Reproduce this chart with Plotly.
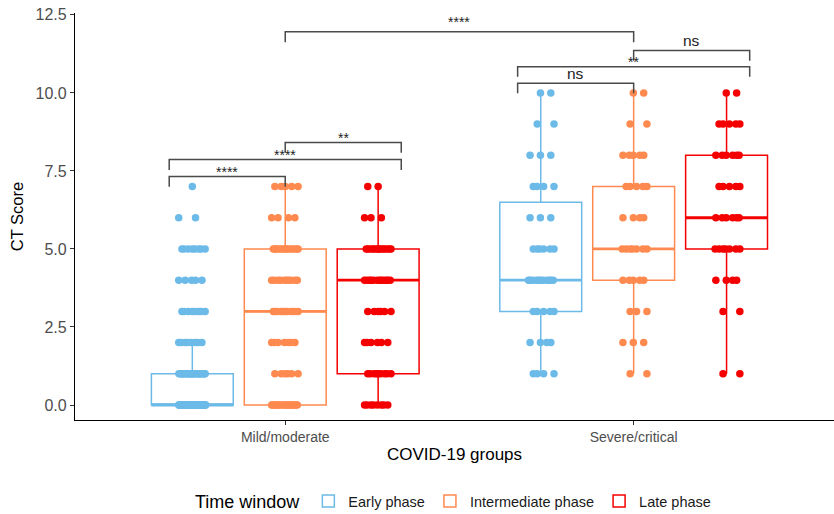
import numpy as np
import plotly.graph_objects as go

# ---------------- data ----------------
groups = ["Mild/moderate", "Severe/critical"]
group_pos = [1, 2]
phases = ["Early phase", "Intermediate phase", "Late phase"]
colors = ["#6CBAE8", "#FF8A50", "#F50000"]

mild_levels = [0, 1, 2, 3, 4, 5, 6, 7]
severe_levels = [1, 2, 3, 4, 5, 6, 7, 8, 9, 10]

# number of patients at each CT score level
mild_early_counts = [70, 30, 8, 8, 5, 8, 2, 1]
mild_inter_counts = [20, 6, 7, 10, 10, 15, 4, 5]
mild_late_counts = [8, 9, 6, 6, 12, 14, 3, 2]
severe_early_counts = [4, 4, 5, 11, 6, 3, 4, 3, 2, 2]
severe_inter_counts = [2, 3, 3, 5, 7, 4, 5, 5, 2, 2]
severe_late_counts = [2, 0, 2, 4, 7, 6, 5, 6, 5, 2]

y_ticks = [0, 2.5, 5, 7.5, 10, 12.5]

# significance brackets: x-start, x-end, bracket height, tip end, label, label y, label size
sig_x0 = [1.0, 2.0, 1.667, 1.667, 1.0, 0.667, 0.667]
sig_x1 = [2.0, 2.333, 2.333, 2.0, 1.333, 1.333, 1.0]
sig_line = [11.96, 11.36, 10.84, 10.31, 8.41, 7.87, 7.32]
sig_tip = [11.62, 11.03, 10.52, 9.99, 8.08, 7.53, 6.99]
sig_label = ["****", "ns", "**", "ns", "**", "****", "****"]
sig_label_y = [12.28, 11.67, 10.99, 10.61, 8.56, 8.01, 7.47]
sig_label_size = [14, 15.5, 14, 15.5, 14, 14, 14]

# ---------------- build ----------------
counts = {
    (0, 0): (mild_levels, mild_early_counts),
    (0, 1): (mild_levels, mild_inter_counts),
    (0, 2): (mild_levels, mild_late_counts),
    (1, 0): (severe_levels, severe_early_counts),
    (1, 1): (severe_levels, severe_inter_counts),
    (1, 2): (severe_levels, severe_late_counts),
}

dodge = 0.8 / 3
box_w = 0.235
jit = 0.039
phi = 0.6180339887

fig = go.Figure()

box_x, box_y, pt_x, pt_y, med_x, med_y = ({p: [] for p in range(3)} for _ in range(6))
for (g, p), (levels, cnt) in counts.items():
    pos = group_pos[g] + (p - 1) * dodge
    vals = np.repeat(levels, cnt).astype(float)
    box_x[p] += [pos] * len(vals)
    box_y[p] += list(vals)
    k = 0
    for lv, n in zip(levels, cnt):
        for j in range(n):
            off = ((j * phi + 0.37 * lv + 0.13 * k) % 1.0 - 0.5) * 2 * jit
            pt_x[p].append(pos + off)
            pt_y[p].append(lv)
        k += 1
    med = float(np.median(vals))
    med_x[p] += [pos - box_w / 2, pos + box_w / 2, None]
    med_y[p] += [med, med, None]

for p in range(3):
    fig.add_trace(go.Box(
        x=box_x[p], y=box_y[p], name=phases[p],
        width=box_w, boxpoints="outliers", whiskerwidth=0,
        line=dict(color=colors[p], width=1.5),
        fillcolor="rgba(255,255,255,0)",
        marker=dict(color=colors[p], opacity=0, size=1),
        showlegend=True, hoverinfo="skip",
    ))
for p in range(3):
    fig.add_trace(go.Scatter(
        x=pt_x[p], y=pt_y[p], mode="markers",
        marker=dict(color=colors[p], size=7.5, line=dict(width=0)),
        showlegend=False, hoverinfo="skip",
    ))
for p in range(3):
    fig.add_trace(go.Scatter(
        x=med_x[p], y=med_y[p], mode="lines",
        line=dict(color=colors[p], width=2.8),
        showlegend=False, hoverinfo="skip",
    ))

bracket_col = "#4A4A4A"
for x0, x1, yl, yt, lab, ly, ls in zip(sig_x0, sig_x1, sig_line, sig_tip,
                                       sig_label, sig_label_y, sig_label_size):
    fig.add_shape(type="path",
                  path=f"M {x0},{yt} L {x0},{yl} L {x1},{yl} L {x1},{yt}",
                  line=dict(color=bracket_col, width=1.5), xref="x", yref="y")
    fig.add_annotation(x=(x0 + x1) / 2, y=ly, text=lab, showarrow=False,
                       xref="x", yref="y", yanchor="middle",
                       font=dict(size=ls, color="#222222"))

font_family = "Liberation Sans, Arial, sans-serif"
fig.update_layout(
    width=834, height=514,
    margin=dict(l=75, r=0, t=13, b=94),
    plot_bgcolor="white", paper_bgcolor="white",
    font=dict(family=font_family, color="#1A1A1A"),
    xaxis=dict(
        range=[0.3966, 2.575], tickvals=group_pos, ticktext=groups,
        showline=True, linecolor="black", linewidth=1.2,
        ticks="outside", ticklen=4, tickcolor="#333333", tickwidth=1.2,
        tickfont=dict(size=14, color="#4D4D4D"),
        showgrid=False, zeroline=False, automargin=False,
        title=dict(text="COVID-19 groups", font=dict(size=17, color="black"), standoff=4),
    ),
    yaxis=dict(
        range=[-0.48, 12.56], tickvals=y_ticks, tickformat=".1f",
        showline=True, linecolor="black", linewidth=1.2,
        ticks="outside", ticklen=4, tickcolor="#333333", tickwidth=1.2,
        tickfont=dict(size=16, color="#4D4D4D"),
        showgrid=False, zeroline=False, automargin=False,
        title=dict(text="CT Score", font=dict(size=16.5, color="black"), standoff=7),
    ),
    legend=dict(
        orientation="h", x=0.5, xanchor="center",
        yref="container", y=1 - 502 / 514, yanchor="middle",
        title=dict(text="Time window", font=dict(size=18, color="black"), side="left"),
        font=dict(size=14.5, color="#1A1A1A"),
        bgcolor="rgba(0,0,0,0)",
    ),
)

fig.write_html("out.html")
